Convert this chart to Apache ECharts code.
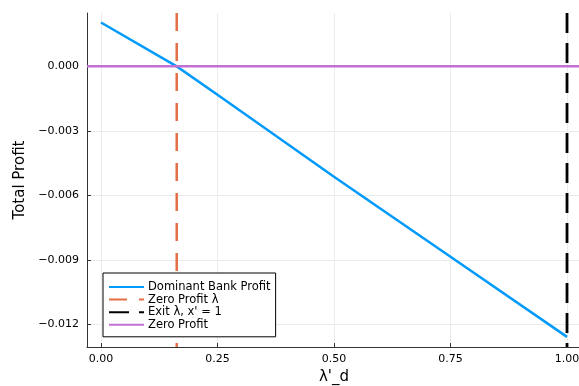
<!DOCTYPE html>
<html>
<head>
<meta charset="utf-8">
<script src="https://cdn.jsdelivr.net/npm/echarts@6/dist/echarts.min.js"></script>
<style>
html,body{margin:0;padding:0;background:#fff;}
#chart{width:579px;height:386px;}
</style>
</head>
<body>
<div id="chart"></div>
<script>
// data
var lambdaVals = [0, 0.1625, 0.25, 0.5, 0.75, 1.0];
var profitVals = [0.00204, 0, -0.00132, -0.00513, -0.00885, -0.01257];
var zeroProfitLambda = 0.1625;
var exitLambda = 1.0;
var xTicks = [0, 0.25, 0.5, 0.75, 1.0];
var yTicks = [-0.012, -0.009, -0.006, -0.003, 0];
var xLimits = [-0.03, 1.03];
var yLimits = [-0.01304, 0.00248];

var fontName = 'DejaVu Sans';

//主曲线
var profitLine = [];
for (var i = 0; i < lambdaVals.length; i++) {
	profitLine.push([lambdaVals[i], profitVals[i]]);
}

var myChart = echarts.init(document.getElementById('chart'));
var option = {
	animation: false,
	textStyle: {fontFamily: fontName},
	grid: {left: 87, top: 13, width: 494, height: 334, outerBoundsMode: 'none', containLabel: false},
	legend: {
		orient: 'vertical',
		left: 103, top: 273,
		itemWidth: 35, itemHeight: 12, itemGap: 0.6,
		padding: [8, 5, 6, 5],
		borderColor: '#000', borderWidth: 1,
		backgroundColor: '#fff',
		itemStyle: {opacity: 0},
		textStyle: {fontFamily: fontName, fontSize: 11.5, color: '#000', padding: [0, 0, 0, -1]},
		data: ['Dominant Bank Profit', 'Zero Profit λ', "Exit λ, x' = 1", 'Zero Profit']
	},
	xAxis: {
		type: 'value',
		min: xLimits[0], max: xLimits[1],
		name: "λ'_d", nameLocation: 'middle', nameGap: 21,
		nameTextStyle: {fontFamily: fontName, fontSize: 15, color: '#000'},
		axisLine: {show: true, onZero: false, lineStyle: {color: '#333', width: 1}},
		axisTick: {show: true, inside: true, length: 4, customValues: xTicks, lineStyle: {color: '#333'}},
		axisLabel: {customValues: xTicks, fontFamily: fontName, fontSize: 11, color: '#000', margin: 7,
			formatter: function (v) { return v.toFixed(2); }},
		splitLine: {show: true, lineStyle: {color: '#ebebeb', width: 1}}
	},
	yAxis: {
		type: 'value',
		min: yLimits[0], max: yLimits[1],
		name: 'Total Profit', nameLocation: 'middle', nameGap: 52, nameRotate: 90,
		nameTextStyle: {fontFamily: fontName, fontSize: 15, color: '#000'},
		axisLine: {show: true, onZero: false, lineStyle: {color: '#333', width: 1}},
		axisTick: {show: true, inside: true, length: 4, customValues: yTicks, lineStyle: {color: '#333'}},
		axisLabel: {customValues: yTicks, fontFamily: fontName, fontSize: 11, color: '#000', margin: 8,
			formatter: function (v) { return v.toFixed(3).replace('-', '\u2212'); }},
		splitLine: {show: true, lineStyle: {color: '#ebebeb', width: 1}}
	},
	series: [
		{name: 'Dominant Bank Profit', type: 'line', symbol: 'none', data: profitLine,
			lineStyle: {color: '#009AFA', width: 2.5}, itemStyle: {color: '#009AFA'}},
		{name: 'Zero Profit λ', type: 'line', symbol: 'none',
			data: [[zeroProfitLambda, yLimits[1]], [zeroProfitLambda, yLimits[0]]],
			lineStyle: {color: '#E26F46', width: 2.5, type: [18, 12]}, itemStyle: {color: '#E26F46'}},
		{name: "Exit λ, x' = 1", type: 'line', symbol: 'none',
			data: [[exitLambda, yLimits[1]], [exitLambda, yLimits[0]]],
			lineStyle: {color: '#000', width: 2.8, type: [20, 10]}, itemStyle: {color: '#000'}},
		{name: 'Zero Profit', type: 'line', symbol: 'none',
			data: [[xLimits[0], 0], [xLimits[1], 0]],
			lineStyle: {color: '#C271D2', width: 2.5}, itemStyle: {color: '#C271D2'}}
	]
};
myChart.setOption(option);
</script>
</body>
</html>
